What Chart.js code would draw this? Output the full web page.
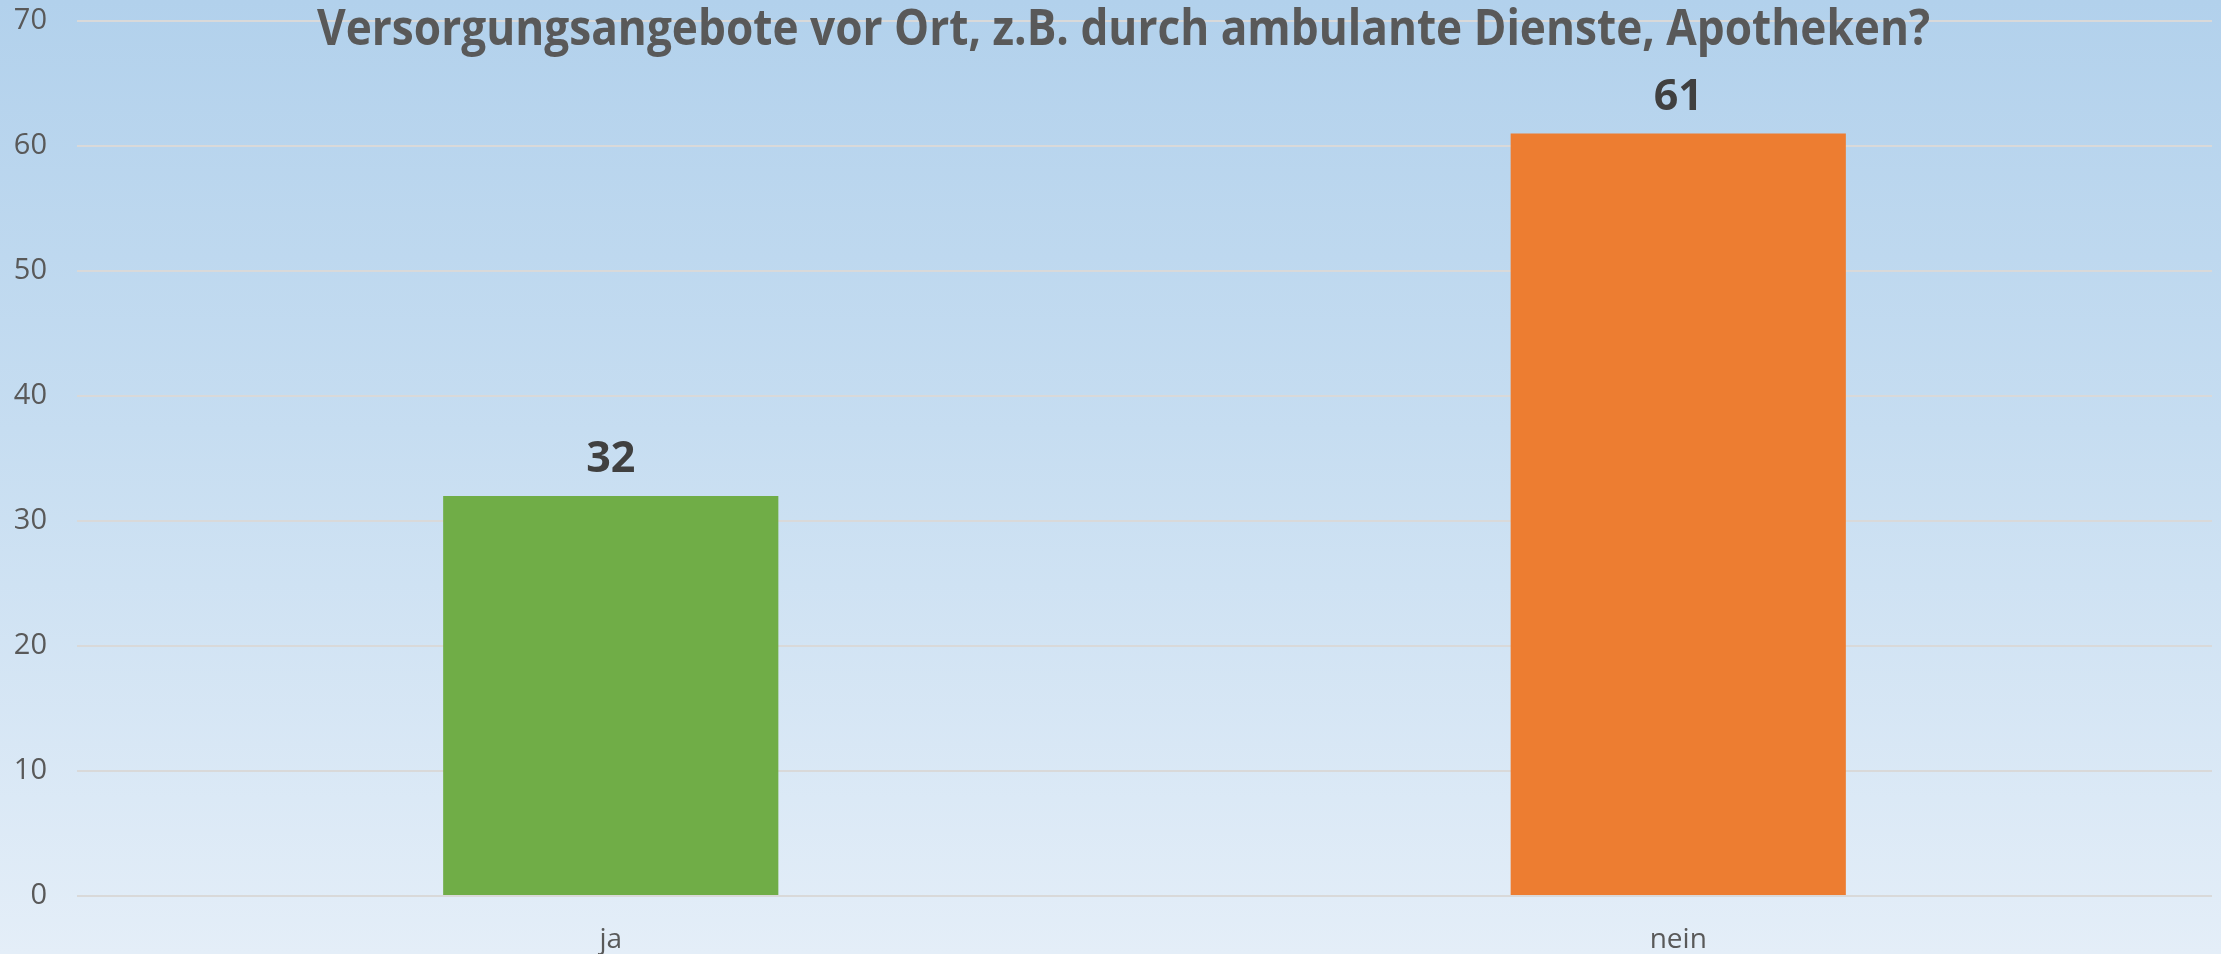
<!DOCTYPE html>
<html>
<head>
<meta charset="utf-8">
<script src="https://cdn.jsdelivr.net/npm/chart.js@4.4.1/dist/chart.umd.min.js"></script>
<style>
  html, body { margin: 0; padding: 0; }
  body { width: 2221px; height: 954px; overflow: hidden; }
  #wrap {
    width: 2221px; height: 954px;
    background: linear-gradient(to bottom, #b2d1ec 0%, #c6ddf1 45%, #e4eef8 100%);
  }
</style>
</head>
<body>
<div id="wrap"><canvas id="chart" width="2221" height="954"></canvas></div>
<script>
const titleText = 'Versorgungsangebote vor Ort, z.B. durch ambulante Dienste, Apotheken?';
const categories = ['ja', 'nein'];
const answers = [32, 61];
const barColors = ['#70ad47', '#ed7d31'];
const yTicks = [0, 10, 20, 30, 40, 50, 60, 70];

const textGrey = '#595959';

// title sits over the plot, so it is drawn by hand and squeezed to Calibri width
const titlePlugin = {
  id: 'overTitle',
  afterDraw(chart) {
    const ctx = chart.ctx;
    ctx.save();
    ctx.font = 'bold 51px "Open Sans"';
    ctx.fillStyle = textGrey;
    ctx.textBaseline = 'alphabetic';
    ctx.textAlign = 'center';
    const w = ctx.measureText(titleText).width;
    const sx = 1613 / w;
    ctx.translate(1123.5, 45);
    ctx.scale(sx, 1);
    ctx.fillText(titleText, 0, 0);
    ctx.restore();
  }
};

const valuePlugin = {
  id: 'barValues',
  afterDatasetsDraw(chart) {
    const ctx = chart.ctx;
    const meta = chart.getDatasetMeta(0);
    ctx.save();
    ctx.font = 'bold 43px "Open Sans"';
    ctx.fillStyle = '#404040';
    ctx.textAlign = 'center';
    ctx.textBaseline = 'alphabetic';
    meta.data.forEach((bar, i) => {
      ctx.fillText(String(answers[i]), bar.x, bar.y - 24);
    });
    ctx.restore();
  }
};

const ctx = document.getElementById('chart').getContext('2d');
new Chart(ctx, {
  type: 'bar',
  data: {
    labels: categories,
    datasets: [{
      data: answers,
      backgroundColor: barColors,
      borderWidth: 0,
      categoryPercentage: 1,
      barPercentage: 0.314
    }]
  },
  options: {
    responsive: false,
    animation: false,
    layout: { padding: { top: 21, right: 9, left: 0, bottom: 0 } },
    plugins: {
      legend: { display: false },
      tooltip: { enabled: false },
      title: { display: false }
    },
    scales: {
      x: {
        grid: { display: false, drawTicks: false },
        border: { display: false },
        ticks: {
          color: textGrey,
          font: { family: '"Open Sans"', size: 28 },
          padding: 27
        },
        afterFit(scale) {
          scale.height = 58;
          scale.paddingLeft = 0;
          scale.paddingRight = 0;
        }
      },
      y: {
        min: 0,
        max: 70,
        afterBuildTicks(scale) { scale.ticks = yTicks.map(v => ({ value: v })); },
        grid: { color: '#d9d9d9', lineWidth: 2, drawTicks: false },
        border: { display: false },
        ticks: {
          color: textGrey,
          font: { family: '"Open Sans"', size: 29 },
          padding: 30
        },
        afterFit(scale) {
          scale.width = 77;
          scale.paddingTop = 0;
          scale.paddingBottom = 0;
        }
      }
    }
  },
  plugins: [valuePlugin, titlePlugin]
});
</script>
</body>
</html>
